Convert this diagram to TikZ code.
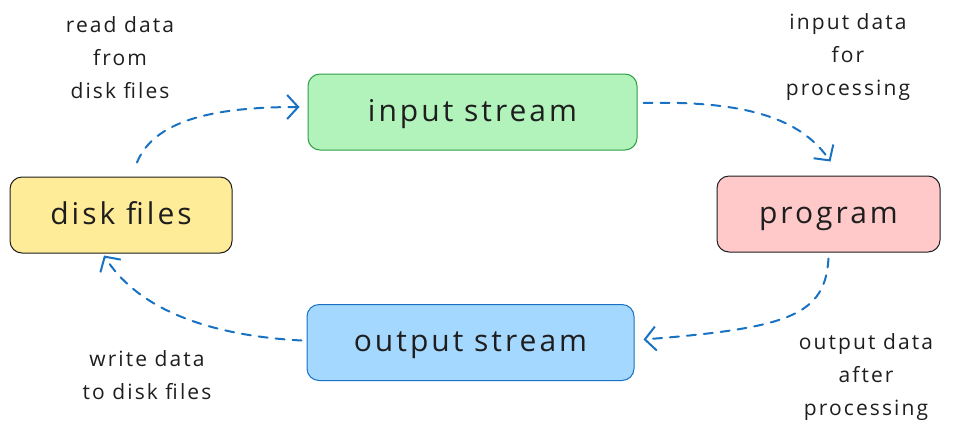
\documentclass[tikz,border=0pt]{standalone}
\usepackage{fontspec}
\setmainfont{Open Sans}
\newfontfamily\boxfont[LetterSpace=10]{Open Sans}
\newfontfamily\lblfont[LetterSpace=10]{Open Sans}
\usetikzlibrary{arrows.meta,calc}
\definecolor{arrowblue}{HTML}{1971C2}
\definecolor{ink}{HTML}{1E1E1E}
\tikzset{
  box/.style={draw, line width=1pt, rounded corners=12pt, minimum width=#1, minimum height=76pt, inner sep=0pt,
    text height=22pt, text depth=4pt, font=\boxfont\fontsize{30}{34}\selectfont, text=ink},
  lbl/.style={align=center, font=\lblfont\fontsize{21}{33}\selectfont, text=ink},
  flow/.style={draw=arrowblue, line width=2pt, dash pattern=on 9pt off 8pt, line cap=round,
    -{Straight Barb[length=11pt,width=24pt,line width=2pt]}},
}
\begin{document}
\begin{tikzpicture}[x=1pt,y=-1pt]
\useasboundingbox (0,0) rectangle (965,429);
\node[box=222pt, fill={rgb,255:red,255;green,236;blue,153}, draw=ink] (disk) at (121,215) {disk files};
\node[box=329pt, fill={rgb,255:red,178;green,242;blue,187}, draw={rgb,255:red,47;green,158;blue,68}] (input) at (472.5,112) {input stream};
\node[box=223pt, fill={rgb,255:red,255;green,201;blue,201}, draw=ink] (program) at (828.5,214) {program};
\node[box=327pt, fill={rgb,255:red,165;green,216;blue,255}, draw=arrowblue] (output) at (470.5,342.5) {output stream};

\node[lbl] (l1) at (120,58) {read data\\from\\disk files};
\node[lbl] (l2) at (848,57) {input data\\for\\processing};
\node[lbl] (l3) at (866,377) {output data\\after\\processing};
\node[lbl] (l4) at (147,375) {write data\\to disk files};

\draw[flow] ($(disk.north)+(16,-14)$) .. controls (155,118) and (220,107) .. ($(input.west)+(-8,-5)$);
\draw[flow] ($(input.east)+(6,-9)$) .. controls (760,100) and (805,125) .. ($(program.north)+(2,-14)$);
\draw[flow] ($(program.south)+(0,6)$) .. controls (825,315) and (790,328) .. ($(output.east)+(9,-3)$);
\draw[flow] ($(output.west)+(-5,-2)$) .. controls (200,335) and (135,305) .. ($(disk.south)+(-17,2)$);
\end{tikzpicture}
\end{document}
